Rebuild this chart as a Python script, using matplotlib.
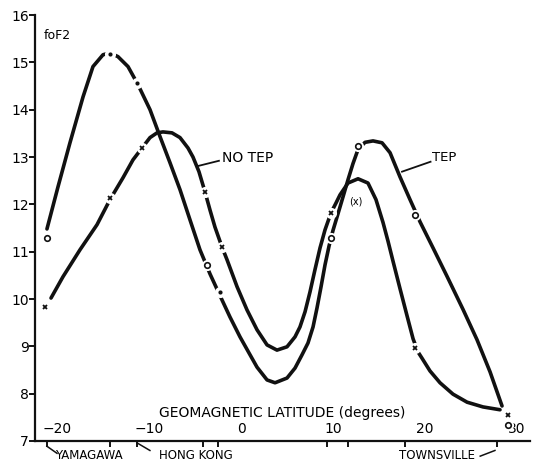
import matplotlib.pyplot as plt

# traced curves (geomagnetic latitude, foF2)
tep_lat = [-21.09, -19.89, -18.59, -17.17, -16.09, -15.00, -14.24, -13.37, -12.28, -11.20,
           -9.89, -8.80, -7.72, -6.63, -5.54, -4.46, -3.37, -2.28, -1.20, -0.11,
           0.87, 1.74, 2.83, 3.70, 5.00, 5.87, 6.63, 7.28, 7.83, 8.26,
           8.70, 9.13, 9.57, 10.00, 10.54, 11.09, 11.63, 12.17, 12.72,
           13.48, 14.35, 15.33, 16.20, 17.28, 18.37, 19.46, 20.87, 22.39, 24.13,
           25.65, 27.07, 28.37]
tep_f = [11.48, 12.37, 13.30, 14.27, 14.91, 15.16, 15.20, 15.12, 14.91, 14.53,
         14.00, 13.43, 12.88, 12.31, 11.67, 11.04, 10.53, 10.07, 9.62, 9.20,
         8.86, 8.56, 8.29, 8.23, 8.33, 8.54, 8.82, 9.07, 9.41, 9.81,
         10.26, 10.72, 11.12, 11.45, 11.80, 12.16, 12.52, 12.86, 13.16,
         13.31, 13.34, 13.30, 13.09, 12.58, 12.10, 11.63, 11.08, 10.48, 9.78,
         9.14, 8.46, 7.74]

notep_lat = [-20.65, -19.35, -17.50, -15.65, -14.24, -12.83, -11.74, -10.76, -9.89, -9.13,
             -8.48, -7.50, -6.63, -5.76, -5.22, -4.57, -3.91, -3.37, -2.83, -2.07,
             -1.52, -0.43, 0.65, 1.74, 2.83, 3.91, 5.00, 5.87, 6.41, 6.96,
             7.50, 8.04, 8.59, 9.13, 9.78, 10.33, 10.76, 11.63, 12.72, 13.80,
             14.67, 15.43, 15.98, 16.52, 17.28, 18.04, 18.70, 19.24, 19.67, 20.54,
             21.63, 23.04, 24.57, 26.30, 28.15]
notep_f = [10.02, 10.47, 11.04, 11.57, 12.10, 12.56, 12.94, 13.19, 13.41, 13.51,
           13.53, 13.51, 13.41, 13.19, 13.00, 12.69, 12.26, 11.88, 11.52, 11.10,
           10.83, 10.26, 9.77, 9.35, 9.03, 8.92, 8.99, 9.20, 9.41, 9.73,
           10.15, 10.62, 11.08, 11.46, 11.82, 12.03, 12.20, 12.45, 12.54, 12.45,
           12.10, 11.62, 11.22, 10.80, 10.22, 9.65, 9.16, 8.88, 8.75, 8.48,
           8.23, 7.99, 7.82, 7.72, 7.66]

# observed points
tep_o_lat = [-21.09, -3.70, 9.78, 12.72, 18.91, 29.02]
tep_o_f = [11.29, 10.72, 11.29, 13.24, 11.78, 7.34]
tep_dot_lat = [-14.24, -11.30, -2.28]
tep_dot_f = [15.18, 14.57, 10.15]
notep_x_lat = [-21.30, -14.24, -10.76, -3.91, -2.07, 9.78, 18.91, 29.02]
notep_x_f = [9.83, 12.14, 13.19, 12.26, 11.10, 11.82, 8.97, 7.55]

station_ticks = [-21.09, -14.24, -11.30, -4.13, -2.50, 9.35, 11.63, 17.83, 27.83]
x_major = [-20, -10, 0, 10, 20, 30]
y_major = [7, 8, 9, 10, 11, 12, 13, 14, 15, 16]

plt.rcParams['font.family'] = ['DejaVu Sans']
fig = plt.figure(figsize=(5.36, 4.63), dpi=100)
ax = fig.add_axes([35 / 536, 22 / 463, 495 / 536, 426 / 463])
ax.set_xlim(-22.39, 31.41)
ax.set_ylim(7, 16)

ax.plot(tep_lat, tep_f, color='#111111', lw=2.6, solid_capstyle='round',
        solid_joinstyle='round', zorder=2)
ax.plot(notep_lat, notep_f, color='#111111', lw=2.6, solid_capstyle='round',
        solid_joinstyle='round', zorder=2)

# white halo behind the points gives the broken-line look
all_lat = tep_o_lat + tep_dot_lat + notep_x_lat
all_f = tep_o_f + tep_dot_f + notep_x_f
ax.plot(all_lat, all_f, 'o', ms=8, mfc='white', mec='none', zorder=3)
ax.plot(tep_o_lat, tep_o_f, 'o', ms=4, mfc='white', mec='#111111', mew=1.2, zorder=4)
ax.plot(tep_dot_lat, tep_dot_f, 'o', ms=3, mfc='#111111', mec='none', zorder=4)
ax.plot(notep_x_lat, notep_x_f, 'x', ms=3.5, mec='#111111', mew=1.3, zorder=4)

for s in ['top', 'right']:
    ax.spines[s].set_visible(False)
for s in ['left', 'bottom']:
    ax.spines[s].set_linewidth(1.6)
    ax.spines[s].set_color('#111111')

ax.set_yticks(y_major)
ax.tick_params(axis='y', direction='out', length=4, width=1.3, pad=0.5, labelsize=10)
ax.set_xticks(x_major)
ax.set_xticklabels([f'\u2212{abs(v)}' if v < 0 else str(v) for v in x_major])
ax.tick_params(axis='x', which='major', length=0, pad=-14, labelsize=10)
ax.set_xticks(station_ticks, minor=True)
ax.tick_params(axis='x', which='minor', direction='out', length=4, width=1.3)

ax.text(-20.0, 15.56, 'foF2', fontsize=9, ha='center', va='center')
ax.text(4.5, 7.59, 'GEOMAGNETIC LATITUDE (degrees)', fontsize=10, ha='center', va='center')
ax.text(12.5, 12.05, '(x)', fontsize=7, ha='center', va='center')

ax.text(-2.1, 12.98, 'NO TEP', fontsize=10, ha='left', va='center')
ax.plot([-4.67, -2.4], [12.81, 12.92], color='#111111', lw=1.3)
ax.text(20.8, 12.98, 'TEP', fontsize=9.5, ha='left', va='center')
ax.plot([17.5, 20.6], [12.69, 12.90], color='#111111', lw=1.3)

ax.text(-16.5, 6.70, 'YAMAGAWA', fontsize=8.5, ha='center', va='center', clip_on=False)
ax.plot([-21.1, -20.0], [6.89, 6.74], color='#111111', lw=1.1, clip_on=False)
ax.text(-4.9, 6.70, 'HONG KONG', fontsize=8.5, ha='center', va='center', clip_on=False)
ax.plot([-11.3, -9.9], [6.96, 6.80], color='#111111', lw=1.1, clip_on=False)
ax.text(21.3, 6.70, 'TOWNSVILLE', fontsize=8.5, ha='center', va='center', clip_on=False)
ax.plot([26.0, 27.6], [6.68, 6.80], color='#111111', lw=1.1, clip_on=False)

fig.savefig('out.png', dpi=100)
